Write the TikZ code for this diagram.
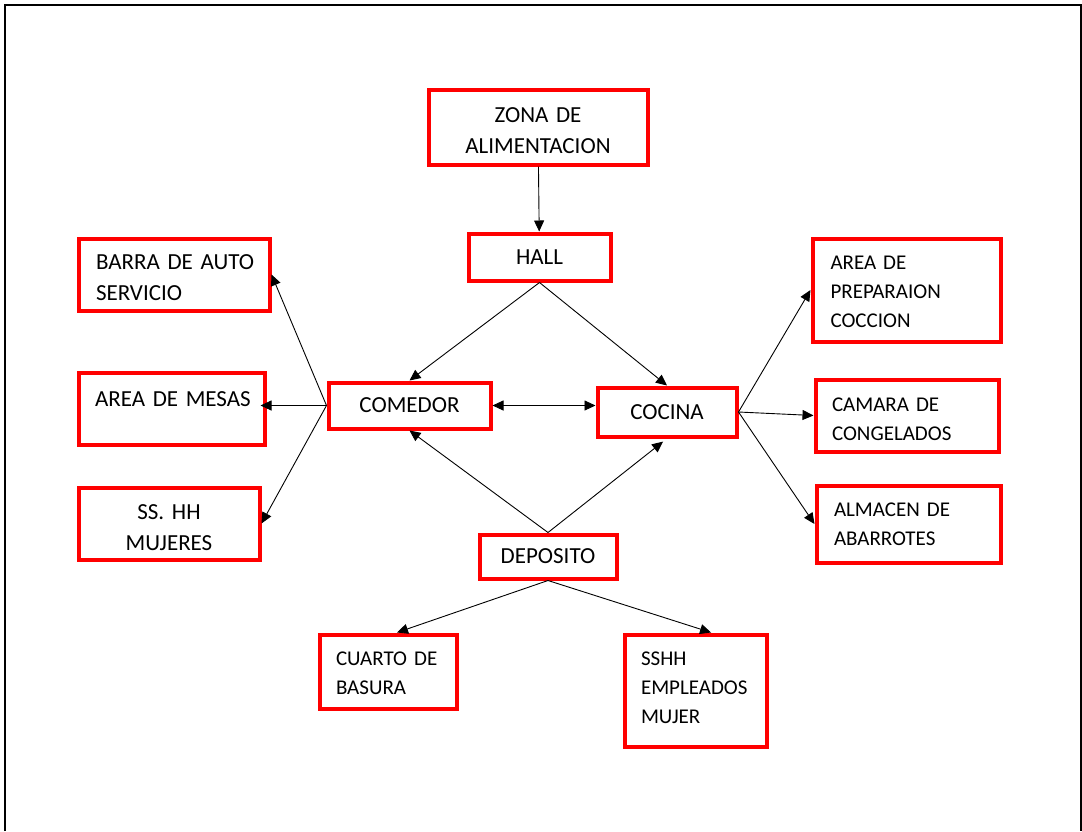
\documentclass[tikz,border=0pt]{standalone}
\usepackage{fontspec}
\setmainfont{Carlito}
\usetikzlibrary{arrows.meta,calc,positioning}
\tikzset{
  room/.style={draw=red, line width=4pt, inner sep=0pt, text=black},
  big/.style={font=\fontsize{23}{31}\selectfont},
  small/.style={font=\fontsize{21}{29}\selectfont},
  link/.style={->, line width=0.9pt, black}
}
\begin{document}
\begin{tikzpicture}[x=1pt,y=-1pt,>={Triangle[length=11pt,width=10pt]}]
\useasboundingbox (0,0) rectangle (1082,831);
\draw[line width=2pt] (5,831) -- (5,5) -- (1080.5,5) -- (1080.5,831);
\node[room,big,minimum width=219pt,minimum height=75pt,text width=200pt,align=center,text height=23pt] (zona) at (538,127) {ZONA DE\\ALIMENTACION};
\node[room,big,minimum width=142pt,minimum height=47pt] (hall) at (539.5,257) {HALL};
\node[room,big,minimum width=162pt,minimum height=46pt] (comedor) at (409.5,405.5) {COMEDOR};
\node[room,big,minimum width=139pt,minimum height=49pt] (cocina) at (667,412) {COCINA};
\node[room,big,minimum width=137pt,minimum height=44pt] (deposito) at (548,556.5) {DEPOSITO};
\node[room,big,minimum width=191pt,minimum height=72pt,text width=156pt,align=left,text height=21pt] (barra) at (174,274.5) {BARRA~DE~AUTO\\SERVICIO};
\node[room,big,minimum width=186pt,minimum height=72pt,text width=153pt,align=left,text depth=19pt] (mesas) at (171.5,408.5) {AREA~DE~MESAS};
\node[room,big,minimum width=181pt,minimum height=72pt,text width=150pt,align=center,text height=23pt] (sshm) at (169,523.5) {SS. HH\\MUJERES};
\node[room,small,minimum width=188pt,minimum height=103pt,text width=152pt,align=left,text height=17.5pt] (prep) at (906.5,290) {AREA~DE\\PREPARAION\\COCCION};
\node[room,small,minimum width=183pt,minimum height=72pt,text width=150pt,align=left,text height=20.5pt] (camara) at (907,415.5) {CAMARA~DE\\CONGELADOS};
\node[room,small,minimum width=184pt,minimum height=77pt,text width=149pt,align=left] (almacen) at (908.5,524) {ALMACEN~DE\\ABARROTES};
\node[room,small,minimum width=137pt,minimum height=74pt,text width=104pt,align=left,text height=17.5pt] (cuarto) at (388,671.5) {CUARTO~DE\\BASURA};
\node[room,small,minimum width=142pt,minimum height=112pt,text width=109pt,align=left,text height=8.5pt] (sshh) at (695.5,690.5) {SSHH\\EMPLEADOS\\MUJER};
\draw[link] (zona) -- (hall);
\draw[link] (hall.south) -- (comedor.north);
\draw[link] (hall.south) -- (cocina.north);
\draw[link,<->] (comedor.east) -- (comedor.east -| cocina.west);
\draw[link] (comedor.west) -- (barra.east);
\draw[link,shorten >=-6pt] (comedor.west) -- (comedor.west -| mesas.east);
\draw[link] (comedor.west) -- (sshm.east);
\draw[link] (deposito.north) -- (comedor.south);
\draw[link,shorten >=5pt] (deposito.north) -- (cocina.south);
\draw[link] (cocina.east) -- (prep.west);
\draw[link] (cocina.east) -- (camara.west);
\draw[link] (cocina.east) -- (almacen.west);
\draw[link] (deposito.south) -- (cuarto.77);
\draw[link] (deposito.south) -- (sshh.75);
\end{tikzpicture}
\end{document}
